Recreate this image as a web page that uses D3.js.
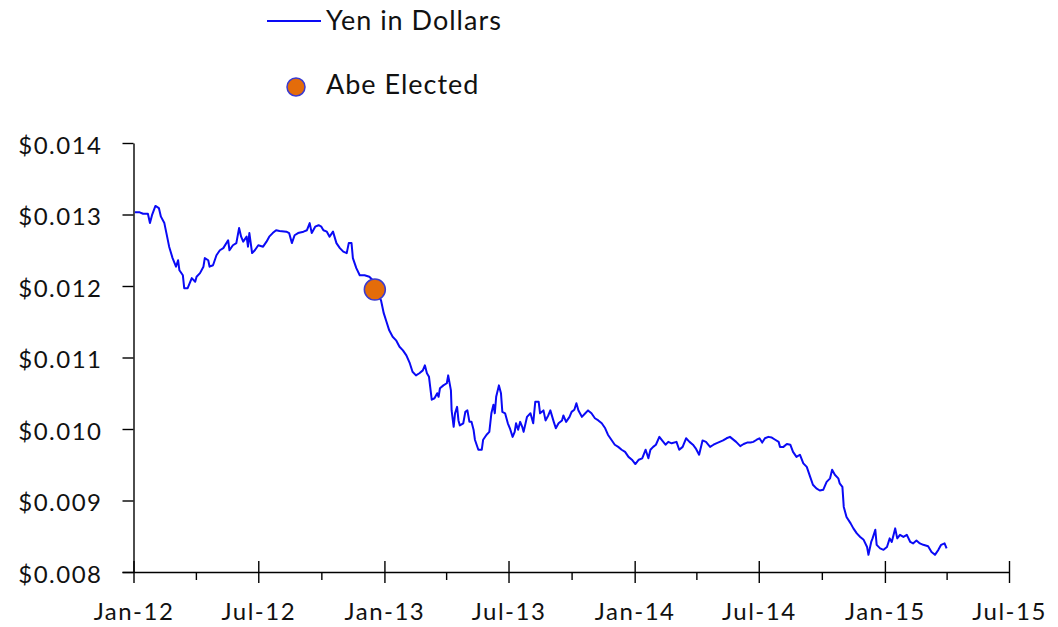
<!DOCTYPE html>
<html>
<head>
<meta charset="utf-8">
<script src="https://cdn.jsdelivr.net/npm/d3@7"></script>
<style>
  body { margin: 0; background: #fff; }
  svg text { font-family: Lato, 'Noto Sans', sans-serif; fill: #111; }
</style>
</head>
<body>
<div id="container"></div>
<script>
// data
const dates = [
  '2012-01-03','2012-01-10','2012-01-15','2012-01-22','2012-01-25','2012-01-28','2012-02-02','2012-02-07','2012-02-10','2012-02-15',
  '2012-02-18','2012-02-22','2012-02-27','2012-03-03','2012-03-06','2012-03-08','2012-03-13','2012-03-15','2012-03-20','2012-03-23',
  '2012-03-26','2012-03-31','2012-04-02','2012-04-07','2012-04-12','2012-04-14','2012-04-19','2012-04-21','2012-04-26','2012-05-01',
  '2012-05-06','2012-05-11','2012-05-18','2012-05-20','2012-05-25','2012-05-30','2012-06-03','2012-06-06','2012-06-09','2012-06-14',
  '2012-06-16','2012-06-18','2012-06-22','2012-06-26','2012-07-01','2012-07-08','2012-07-13','2012-07-17','2012-07-22','2012-07-27',
  '2012-08-01','2012-08-11','2012-08-15','2012-08-19','2012-08-23','2012-08-28','2012-09-05','2012-09-10','2012-09-14','2012-09-17',
  '2012-09-22','2012-09-27','2012-10-01','2012-10-04','2012-10-09','2012-10-13','2012-10-18','2012-10-23','2012-10-28','2012-11-02',
  '2012-11-07','2012-11-10','2012-11-14','2012-11-16','2012-11-21','2012-11-26','2012-12-03','2012-12-10','2012-12-15','2012-12-18',
  '2012-12-27','2012-12-31',
  '2013-01-04','2013-01-08','2013-01-13','2013-01-18','2013-01-23','2013-01-28','2013-02-02','2013-02-07','2013-02-11','2013-02-16',
  '2013-02-21','2013-02-26','2013-03-01','2013-03-04','2013-03-07','2013-03-11','2013-03-15','2013-03-19','2013-03-21','2013-03-23',
  '2013-03-28','2013-04-02','2013-04-04','2013-04-08','2013-04-09','2013-04-12','2013-04-14','2013-04-17','2013-04-19','2013-04-21',
  '2013-04-26','2013-04-29','2013-05-02','2013-05-05','2013-05-08','2013-05-11','2013-05-13','2013-05-18','2013-05-23','2013-05-25',
  '2013-05-30','2013-06-03','2013-06-06','2013-06-09','2013-06-11','2013-06-13','2013-06-17','2013-06-20','2013-06-22','2013-06-26',
  '2013-06-30','2013-07-03','2013-07-07','2013-07-10','2013-07-12','2013-07-15','2013-07-18','2013-07-21','2013-07-23','2013-07-28',
  '2013-08-02','2013-08-06','2013-08-09','2013-08-14','2013-08-16','2013-08-21','2013-08-24','2013-08-28','2013-08-31','2013-09-05',
  '2013-09-08','2013-09-12','2013-09-17','2013-09-19','2013-09-23','2013-09-28','2013-10-01','2013-10-05','2013-10-08','2013-10-11',
  '2013-10-16','2013-10-21','2013-10-25','2013-10-30','2013-11-04','2013-11-09','2013-11-14','2013-11-19','2013-11-23','2013-11-28',
  '2013-12-03','2013-12-08','2013-12-13','2013-12-18','2013-12-23','2013-12-28',
  '2014-01-02','2014-01-07','2014-01-12','2014-01-17','2014-01-21','2014-01-24','2014-01-28','2014-02-01','2014-02-06','2014-02-10',
  '2014-02-15','2014-02-19','2014-02-24','2014-03-03','2014-03-07','2014-03-12','2014-03-17','2014-03-22','2014-03-27','2014-03-31',
  '2014-04-05','2014-04-10','2014-04-15','2014-04-21','2014-04-26','2014-04-30','2014-05-05','2014-05-10','2014-05-15','2014-05-20',
  '2014-05-29','2014-06-04','2014-06-09','2014-06-14','2014-06-19','2014-06-23','2014-06-28','2014-07-02','2014-07-06','2014-07-10',
  '2014-07-15','2014-07-20','2014-07-25','2014-07-30','2014-08-01','2014-08-06','2014-08-11','2014-08-16','2014-08-20','2014-08-25',
  '2014-08-30','2014-09-04','2014-09-09','2014-09-14','2014-09-18','2014-09-23','2014-09-28','2014-10-03','2014-10-08','2014-10-13',
  '2014-10-16','2014-10-20','2014-10-25','2014-10-27','2014-10-31','2014-11-02','2014-11-06','2014-11-12','2014-11-16','2014-11-21',
  '2014-11-26','2014-12-01','2014-12-06','2014-12-08','2014-12-12','2014-12-14','2014-12-18','2014-12-20','2014-12-25','2014-12-30',
  '2015-01-04','2015-01-08','2015-01-11','2015-01-16','2015-01-19','2015-01-23','2015-01-28','2015-02-02','2015-02-07','2015-02-11',
  '2015-02-16','2015-02-21','2015-02-26','2015-03-05','2015-03-10','2015-03-15','2015-03-20','2015-03-24','2015-03-29','2015-04-01'
];

const yenInDollars = [
  0.01303,0.01303,0.01301,0.01301,0.01288,0.01299,0.01312,0.01309,0.01297,0.01288,
  0.01274,0.01255,0.01239,0.01227,0.01236,0.01222,0.01215,0.01197,0.01197,0.01204,
  0.01211,0.01206,0.01213,0.01218,0.01227,0.01239,0.01236,0.01227,0.01229,0.01243,
  0.01250,0.01253,0.01264,0.01250,0.01257,0.01260,0.01281,0.01269,0.01262,0.01269,
  0.01255,0.01274,0.01246,0.01250,0.01257,0.01255,0.01262,0.01269,0.01274,0.01278,
  0.01277,0.01276,0.01274,0.01260,0.01271,0.01274,0.01276,0.01278,0.01288,0.01274,
  0.01283,0.01285,0.01283,0.01278,0.01276,0.01269,0.01276,0.01260,0.01253,0.01248,
  0.01246,0.01260,0.01260,0.01239,0.01225,0.01215,0.01215,0.01213,0.01208,0.01195,
  0.01180,0.01162,
  0.01150,0.01138,0.01129,0.01124,0.01115,0.01110,0.01103,0.01092,0.01080,0.01075,
  0.01078,0.01082,0.01089,0.01078,0.01073,0.01041,0.01043,0.01050,0.01045,0.01057,
  0.01061,0.01064,0.01075,0.01054,0.01026,0.01003,0.01022,0.01031,0.01012,0.01005,
  0.01008,0.01024,0.01026,0.01010,0.01010,0.00999,0.00985,0.00971,0.00971,0.00985,
  0.00992,0.00996,0.01022,0.01034,0.01022,0.01045,0.01061,0.01050,0.01024,0.01022,
  0.01008,0.01001,0.00989,0.00996,0.01008,0.00999,0.01010,0.01003,0.00996,0.01017,
  0.01022,0.01008,0.01038,0.01038,0.01022,0.01026,0.01012,0.01019,0.01026,0.01010,
  0.01001,0.01008,0.01012,0.01019,0.01010,0.01017,0.01024,0.01027,0.01036,0.01026,
  0.01017,0.01022,0.01026,0.01022,0.01015,0.01012,0.01008,0.01001,0.00992,0.00985,
  0.00978,0.00975,0.00971,0.00968,0.00961,0.00957,
  0.00951,0.00957,0.00959,0.00971,0.00959,0.00971,0.00975,0.00978,0.00989,0.00984,
  0.00978,0.00982,0.00980,0.00982,0.00971,0.00975,0.00987,0.00982,0.00978,0.00973,
  0.00964,0.00984,0.00982,0.00975,0.00978,0.00980,0.00982,0.00984,0.00987,0.00989,
  0.00982,0.00976,0.00979,0.00981,0.00981,0.00982,0.00985,0.00987,0.00981,0.00987,
  0.00989,0.00988,0.00985,0.00982,0.00975,0.00975,0.00979,0.00978,0.00968,0.00961,
  0.00964,0.00952,0.00947,0.00933,0.00922,0.00917,0.00914,0.00915,0.00926,0.00931,
  0.00943,0.00936,0.00931,0.00924,0.00919,0.00891,0.00877,0.00868,0.00861,0.00854,
  0.00849,0.00845,0.00835,0.00824,0.00842,0.00847,0.00859,0.00838,0.00833,0.00831,
  0.00835,0.00847,0.00842,0.00861,0.00847,0.00852,0.00849,0.00852,0.00842,0.00840,
  0.00844,0.00840,0.00838,0.00836,0.00828,0.00824,0.00831,0.00838,0.00840,0.00833
];

// event marker
const eventDates = ['2012-12-18'];
const eventValues = [0.01195];

// axis ticks
const majorTicks = ['2012-01-01','2012-07-01','2013-01-01','2013-07-01','2014-01-01','2014-07-01','2015-01-01','2015-07-01'];
const minorTicks = ['2012-04-01','2012-10-01','2013-04-01','2013-10-01','2014-04-01','2014-10-01','2015-04-01'];
const yTicks = [0.008, 0.009, 0.010, 0.011, 0.012, 0.013, 0.014];

const parse = d3.utcParse('%Y-%m-%d');
const series = dates.map((d, i) => ({ date: parse(d), value: yenInDollars[i] }));
const events = eventDates.map((d, i) => ({ date: parse(d), value: eventValues[i] }));

// svg dimensions
const w = 1058;
const h = 627;

const svg = d3.select('#container')
  .append('svg')
  .attr('width', w)
  .attr('height', h);

svg.append('rect').attr('width', w).attr('height', h).attr('fill', '#fff');

// scales
const xScale = d3.scaleUtc()
  .domain([parse('2012-01-01'), parse('2015-07-01')])
  .range([133.5, 1009]);

const yScale = d3.scaleLinear()
  .domain([0.008, 0.014])
  .range([572, 143]);

// y axis
const yAxis = d3.axisLeft(yScale)
  .tickValues(yTicks)
  .tickSize(11)
  .tickSizeOuter(0)
  .tickPadding(20)
  .tickFormat(d => '$' + d3.format('.3f')(d));

const gy = svg.append('g')
  .attr('transform', 'translate(133.5, 0)')
  .call(yAxis);
gy.selectAll('text').attr('font-size', 24).attr('letter-spacing', 1.5).attr('dy', '0.42em');

// x axis: minor ticks below, major ticks crossing
const gxMinor = svg.append('g')
  .attr('transform', 'translate(0, 572)')
  .call(d3.axisBottom(xScale).tickValues(minorTicks.map(parse)).tickSize(8).tickSizeOuter(0).tickFormat(''));
gxMinor.select('.domain').remove();

const gx = svg.append('g')
  .attr('transform', 'translate(0, 572)')
  .call(d3.axisBottom(xScale)
    .tickValues(majorTicks.map(parse))
    .tickSize(11)
    .tickSizeOuter(0)
    .tickFormat(d3.utcFormat('%b-%y')));
gx.selectAll('.tick line').attr('y1', -11).attr('y2', 11);
gx.select('.domain').attr('d', 'M122.5,0.5H1009');
gx.selectAll('text').attr('font-size', 24).attr('letter-spacing', 1.5).attr('y', 31);

svg.selectAll('.domain, .tick line').attr('stroke', '#000').attr('stroke-width', 1.4);
svg.selectAll('.tick text').attr('fill', '#111');

// line
const line = d3.line()
  .x(d => xScale(d.date))
  .y(d => yScale(d.value));

svg.append('path')
  .datum(series)
  .attr('fill', 'none')
  .attr('stroke', '#0a0af5')
  .attr('stroke-width', 2)
  .attr('stroke-linejoin', 'round')
  .attr('d', line);

// event marker
svg.selectAll('.event')
  .data(events)
  .enter()
  .append('circle')
  .attr('class', 'event')
  .attr('cx', d => xScale(d.date))
  .attr('cy', d => yScale(d.value))
  .attr('r', 10.5)
  .attr('fill', '#e46c0a')
  .attr('stroke', '#3b3bd0')
  .attr('stroke-width', 1.5);

// legend
const legend = svg.append('g');
legend.append('line')
  .attr('x1', 267).attr('x2', 321)
  .attr('y1', 21).attr('y2', 21)
  .attr('stroke', '#0a0af5').attr('stroke-width', 2);
legend.append('text')
  .attr('x', 326).attr('y', 29.5)
  .attr('font-size', 27).attr('letter-spacing', 1)
  .text('Yen in Dollars');
legend.append('circle')
  .attr('cx', 296).attr('cy', 87).attr('r', 9)
  .attr('fill', '#e46c0a').attr('stroke', '#3b3bd0').attr('stroke-width', 1.5);
legend.append('text')
  .attr('x', 326).attr('y', 93.5)
  .attr('font-size', 27).attr('letter-spacing', 1)
  .text('Abe Elected');
</script>
</body>
</html>
